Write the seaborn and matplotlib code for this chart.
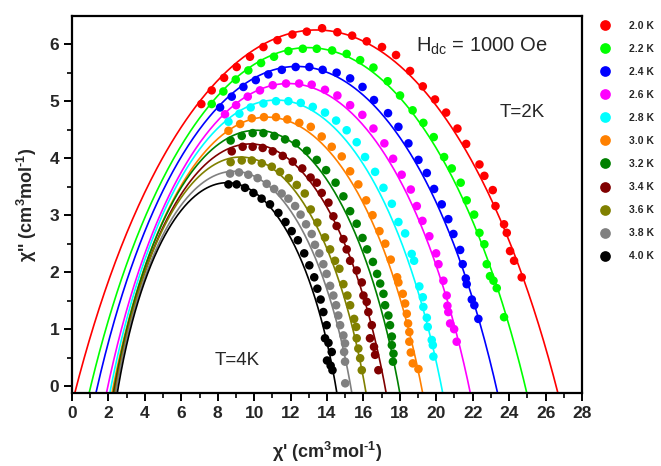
import numpy as np
import pandas as pd
import matplotlib
matplotlib.use("Agg")
import matplotlib.pyplot as plt
import seaborn as sns

# ---------------- data ----------------
temps = ["2.0 K", "2.2 K", "2.4 K", "2.6 K", "2.8 K", "3.0 K",
         "3.2 K", "3.4 K", "3.6 K", "3.8 K", "4.0 K"]
colors = ["#FF0000", "#00FF00", "#0000FF", "#FF00FF", "#00FFFF", "#FF8000",
          "#008000", "#800000", "#808000", "#808080", "#000000"]

# fit parameters of the Cole-Cole arcs (chi_S, chi_T, arc height)
chi_s = [0.25, 1.03, 1.40, 1.97, 2.15, 2.27, 2.33, 2.38, 2.42, 2.47, 2.55]
chi_t = [26.58, 24.88, 23.28, 21.79, 20.28, 19.18, 17.93, 17.18, 16.08, 15.30, 14.48]
arc_h = [6.25, 5.94, 5.61, 5.31, 5.02, 4.72, 4.49, 4.25, 4.02, 3.77, 3.57]

x_20 = [7.10, 7.67, 8.35, 9.04, 9.77, 10.51, 11.28, 12.10, 12.89, 13.73, 14.57, 15.38, 16.18, 17.02, 17.79,
        18.56, 19.26, 19.93, 20.54, 21.16, 21.64, 22.37, 22.64, 23.10, 23.25, 23.72, 23.87, 24.05, 24.27, 24.69]
y_20 = [4.95, 5.19, 5.41, 5.60, 5.78, 5.95, 6.07, 6.17, 6.22, 6.28, 6.21, 6.15, 6.05, 5.95, 5.81,
        5.53, 5.26, 5.03, 4.80, 4.52, 4.25, 3.89, 3.69, 3.44, 3.16, 2.84, 2.69, 2.37, 2.20, 1.91]

x_22 = [7.67, 8.31, 8.99, 9.68, 10.38, 11.09, 11.88, 12.67, 13.44, 14.28, 15.08, 15.82, 16.55, 17.33, 18.01,
        18.70, 19.29, 19.86, 20.43, 20.85, 21.34, 21.67, 22.08, 22.37, 22.64, 22.77, 22.95, 23.14, 23.32, 23.72]
y_22 = [4.95, 5.17, 5.38, 5.54, 5.67, 5.78, 5.88, 5.92, 5.92, 5.89, 5.83, 5.72, 5.59, 5.35, 5.10,
        4.84, 4.62, 4.37, 4.02, 3.82, 3.57, 3.26, 3.01, 2.69, 2.49, 2.14, 1.93, 1.85, 1.72, 1.21]

x_24 = [8.13, 8.77, 9.41, 10.09, 10.78, 11.52, 12.28, 13.03, 13.76, 14.53, 15.27, 15.95, 16.58, 17.35, 17.92,
        18.47, 19.02, 19.48, 19.88, 20.30, 20.66, 20.94, 21.31, 21.45, 21.62, 21.67, 21.95, 22.09, 22.31]
y_24 = [4.89, 5.08, 5.25, 5.37, 5.47, 5.55, 5.60, 5.60, 5.55, 5.50, 5.40, 5.25, 5.02, 4.79, 4.55,
        4.26, 3.97, 3.74, 3.46, 3.19, 2.93, 2.67, 2.39, 2.14, 1.89, 1.79, 1.52, 1.42, 1.18]

x_26 = [8.40, 9.01, 9.65, 10.32, 11.02, 11.75, 12.47, 13.16, 13.89, 14.57, 15.27, 15.94, 16.55, 17.15, 17.63,
        18.10, 18.60, 18.93, 19.24, 19.62, 19.99, 20.12, 20.39, 20.57, 20.61, 20.66, 20.76, 20.98, 21.12]
y_26 = [4.77, 4.93, 5.08, 5.19, 5.28, 5.31, 5.31, 5.29, 5.20, 5.10, 4.93, 4.76, 4.52, 4.26, 3.99,
        3.71, 3.45, 3.16, 2.90, 2.63, 2.33, 2.14, 1.85, 1.59, 1.41, 1.30, 1.10, 1.00, 0.78]

x_28 = [8.59, 9.19, 9.81, 10.51, 11.20, 11.88, 12.56, 13.22, 13.89, 14.50, 15.08, 15.63, 16.09, 16.64, 17.10,
        17.56, 17.92, 18.29, 18.65, 18.78, 19.07, 19.26, 19.29, 19.48, 19.53, 19.75, 19.81, 19.84]
y_28 = [4.64, 4.78, 4.89, 4.96, 5.00, 5.00, 4.97, 4.90, 4.80, 4.66, 4.49, 4.28, 4.02, 3.76, 3.48,
        3.20, 2.88, 2.68, 2.32, 2.20, 1.75, 1.56, 1.39, 1.20, 1.04, 0.81, 0.72, 0.52]

x_30 = [8.59, 9.23, 9.87, 10.54, 11.20, 11.82, 12.48, 13.11, 13.71, 14.26, 14.81, 15.27, 15.72, 16.15, 16.50,
        16.88, 17.20, 17.50, 17.85, 17.92, 18.16, 18.29, 18.38, 18.45, 18.52, 18.52, 18.60, 18.71, 19.02]
y_30 = [4.48, 4.60, 4.70, 4.72, 4.72, 4.68, 4.62, 4.55, 4.38, 4.20, 4.03, 3.77, 3.54, 3.26, 3.00,
        2.72, 2.50, 2.22, 1.91, 1.82, 1.62, 1.45, 1.27, 1.10, 0.95, 0.78, 0.59, 0.40, 0.30]

x_32 = [8.71, 9.32, 9.92, 10.51, 11.11, 11.70, 12.30, 12.89, 13.44, 13.95, 14.47, 14.90, 15.27, 15.63, 15.95,
        16.20, 16.52, 16.75, 16.92, 17.10, 17.19, 17.37, 17.46, 17.56, 17.56, 17.65, 17.62]
y_32 = [4.31, 4.39, 4.44, 4.44, 4.39, 4.33, 4.26, 4.13, 3.97, 3.79, 3.57, 3.33, 3.07, 2.85, 2.60,
        2.40, 2.18, 1.97, 1.80, 1.62, 1.42, 1.24, 1.07, 0.87, 0.72, 0.57, 0.43]

x_34 = [8.77, 9.37, 9.92, 10.47, 11.02, 11.57, 12.12, 12.64, 13.10, 13.44, 13.71, 14.08, 14.35, 14.53, 14.90,
        15.08, 15.27, 15.63, 15.91, 16.00, 16.18, 16.27, 16.46, 16.36, 16.58, 16.64, 16.82]
y_34 = [4.12, 4.20, 4.20, 4.18, 4.12, 4.04, 3.94, 3.82, 3.66, 3.57, 3.39, 3.22, 2.98, 2.81, 2.58,
        2.40, 2.20, 2.03, 1.82, 1.59, 1.48, 1.30, 1.07, 0.84, 0.69, 0.55, 0.28]

x_36 = [8.71, 9.32, 9.87, 10.42, 10.97, 11.42, 11.90, 12.34, 12.78, 13.11, 13.47, 13.89, 14.17, 14.44, 14.68,
        14.90, 15.12, 15.27, 15.49, 15.60, 15.63, 15.72, 15.82, 15.91]
y_36 = [3.93, 3.96, 3.96, 3.91, 3.85, 3.76, 3.65, 3.53, 3.38, 3.10, 2.87, 2.61, 2.40, 2.20, 2.06,
        1.79, 1.59, 1.42, 1.18, 1.04, 0.84, 0.66, 0.49, 0.28]

x_38 = [8.68, 9.17, 9.68, 10.19, 10.69, 11.10, 11.51, 11.88, 12.25, 12.55, 12.85, 13.16, 13.34, 13.58, 13.80,
        13.98, 14.17, 14.35, 14.50, 14.62, 14.72, 14.90, 14.99, 14.94, 14.99, 15.00]
y_38 = [3.73, 3.75, 3.71, 3.65, 3.55, 3.46, 3.38, 3.29, 3.16, 3.01, 2.84, 2.67, 2.48, 2.33, 2.14,
        1.97, 1.76, 1.59, 1.42, 1.24, 1.07, 0.89, 0.75, 0.60, 0.43, 0.05]

x_40 = [8.59, 9.04, 9.50, 9.96, 10.41, 10.87, 11.33, 11.72, 12.06, 12.40, 12.75, 13.03, 13.30, 13.47, 13.65,
        13.80, 13.98, 13.89, 14.08, 14.26, 14.00, 14.20, 14.30]
y_40 = [3.54, 3.54, 3.48, 3.39, 3.29, 3.19, 3.04, 2.88, 2.72, 2.56, 2.33, 2.12, 1.91, 1.71, 1.52,
        1.30, 1.07, 0.84, 0.76, 0.60, 0.45, 0.36, 0.28]

xs = [x_20, x_22, x_24, x_26, x_28, x_30, x_32, x_34, x_36, x_38, x_40]
ys = [y_20, y_22, y_24, y_26, y_28, y_30, y_32, y_34, y_36, y_38, y_40]

# ---------------- tables ----------------
pts = pd.concat([pd.DataFrame({"chi1": x, "chi2": y, "T": t}) for x, y, t in zip(xs, ys, temps)],
                ignore_index=True)

curves = []
for t, a, b, h in zip(temps, chi_s, chi_t, arc_h):
    w = (b - a) / 2.0
    xc = (a + b) / 2.0
    yc = (h * h - w * w) / (2.0 * h)
    r = h - yc
    ang = np.linspace(-0.2, np.pi + 0.2, 600)
    cx = xc + r * np.cos(ang)
    cy = yc + r * np.sin(ang)
    keep = cy >= -0.2
    curves.append(pd.DataFrame({"chi1": cx[keep], "chi2": cy[keep], "T": t}))
fit = pd.concat(curves, ignore_index=True)

# ---------------- plot ----------------
sns.set_theme(style="ticks")
plt.rcParams["font.family"] = ["Liberation Sans", "DejaVu Sans"]
plt.rcParams["mathtext.fontset"] = "custom"
plt.rcParams["mathtext.rm"] = "Liberation Sans"
plt.rcParams["mathtext.it"] = "Liberation Sans:italic"
plt.rcParams["mathtext.bf"] = "Liberation Sans:bold"

fig = plt.figure(figsize=(6.61, 4.66), dpi=100)
ax = fig.add_axes([72 / 661, 1 - 393 / 466, 510 / 661, (393 - 15.7) / 466])

pal = dict(zip(temps, colors))
sns.lineplot(data=fit, x="chi1", y="chi2", hue="T", hue_order=temps, palette=pal,
             sort=False, estimator=None, legend=False, linewidth=1.2, ax=ax, zorder=2)
sns.scatterplot(data=pts, x="chi1", y="chi2", hue="T", hue_order=temps, palette=pal,
                s=38, linewidth=0, ax=ax, zorder=3)

ax.set_xlim(0, 28)
ax.set_ylim(-0.12, 6.5)
ax.set_xticks(np.arange(0, 29, 2))
ax.set_xticks(np.arange(1, 28, 2), minor=True)
ax.set_yticks(np.arange(0, 7, 1))
ax.set_yticks(np.arange(0.5, 6.5, 1), minor=True)
for s in ax.spines.values():
    s.set_linewidth(1.6)
    s.set_color("black")
ax.tick_params(which="major", length=6, width=1.4, color="black", labelsize=12.5, pad=3)
ax.tick_params(which="minor", length=3.5, width=1.2, color="black")
for lab in ax.get_xticklabels() + ax.get_yticklabels():
    lab.set_fontweight("bold")

ax.set_xlabel("\u03c7' (cm$^{\\mathbf{3}}$mol$^{\\mathbf{\u20101}}$)", fontsize=13,
              fontweight="bold", labelpad=14)
ax.set_ylabel("\u03c7'' (cm$^{\\mathbf{3}}$mol$^{\\mathbf{\u20101}}$)", fontsize=13,
              fontweight="bold", labelpad=8)

ax.text(18.89, 5.86, r"H$_{\mathrm{dc}}$ = 1000 Oe", fontsize=14.5, va="baseline", ha="left")
ax.text(23.5, 4.73, "T=2K", fontsize=13.5, va="baseline", ha="left")
ax.text(7.85, 0.37, "T=4K", fontsize=13.5, va="baseline", ha="left")

sns.move_legend(ax, "upper left", bbox_to_anchor=(600 / 661, 1 - 21 / 466),
                bbox_transform=fig.transFigure, frameon=False, title=None,
                prop={"weight": "bold", "size": 7.5}, handlelength=0.9,
                handletextpad=1.9, labelspacing=1.25, borderpad=0, borderaxespad=0,
                markerscale=1.25)

fig.savefig("out.png", dpi=100)
